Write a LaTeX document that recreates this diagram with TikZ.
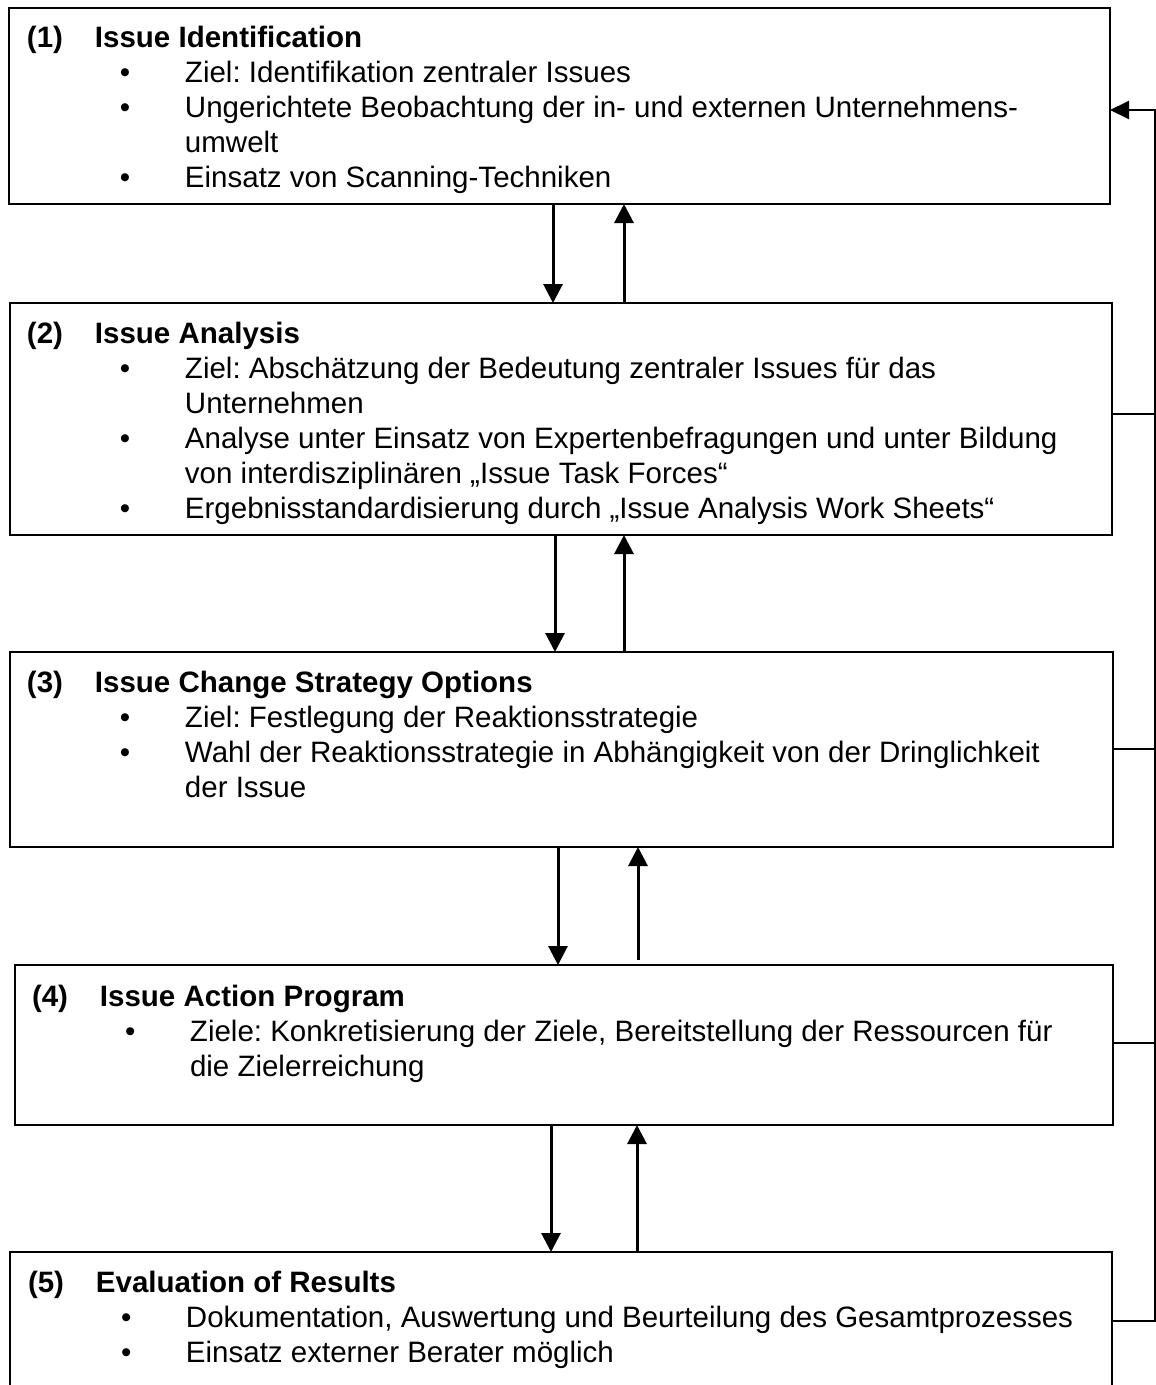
\documentclass[tikz,border=0pt]{standalone}
\usepackage{fontspec}
\setmainfont{Liberation Sans}
\usetikzlibrary{arrows.meta}

% block of text lines: first line's baseline is the node's base
\newcommand\textblock[1]{\vtop{\hsize=1080pt \parindent=0pt \parskip=0pt
  \frenchspacing\fontsize{29.5}{35}\selectfont #1}}
\newcommand\stagehead[2]{\makebox[68pt][l]{\bfseries #1}\textbf{#2}\par}
\newcommand\bulletline[1]{\hspace*{93pt}\makebox[65pt][l]{•}#1\par}
\newcommand\contline[1]{\hspace*{158pt}#1\par}

\begin{document}
\begin{tikzpicture}[x=1pt,y=-1pt,
  stagebox/.style={draw, line width=2pt, inner sep=0pt, outer sep=0pt},
  stagetext/.style={anchor=base west, inner sep=0pt, outer sep=0pt},
  flow/.style={line width=3pt, -{Triangle[length=19pt,width=19pt]}},
  feedback/.style={line width=2pt},
]
\useasboundingbox (0,0) rectangle (1156,1385);

% stage boxes
\node[stagebox, minimum width=1101pt, minimum height=196pt] (b1) at (559.5,106) {};
\node[stagebox, minimum width=1102pt, minimum height=232pt] (b2) at (561,419) {};
\node[stagebox, minimum width=1103pt, minimum height=195pt] (b3) at (561.5,749.5) {};
\node[stagebox, minimum width=1098pt, minimum height=160pt] (b4) at (564,1045) {};
\node[stagebox, minimum width=1102pt, minimum height=138pt] (b5) at (561,1321) {};

% stage contents
\node[stagetext] (t1) at (27,47.5) {\textblock{%
  \stagehead{(1)}{Issue Identification}
  \bulletline{Ziel: Identifikation zentraler Issues}
  \bulletline{Ungerichtete Beobachtung der in- und externen Unternehmens-}
  \contline{umwelt}
  \bulletline{Einsatz von Scanning-Techniken}}};

\node[stagetext] (t2) at (27,343) {\textblock{%
  \stagehead{(2)}{Issue Analysis}
  \bulletline{Ziel: Abschätzung der Bedeutung zentraler Issues für das}
  \contline{Unternehmen}
  \bulletline{Analyse unter Einsatz von Expertenbefragungen und unter Bildung}
  \contline{von interdisziplinären „Issue Task Forces“}
  \bulletline{Ergebnisstandardisierung durch „Issue Analysis Work Sheets“}}};

\node[stagetext] (t3) at (27,692) {\textblock{%
  \stagehead{(3)}{Issue Change Strategy Options}
  \bulletline{Ziel: Festlegung der Reaktionsstrategie}
  \bulletline{Wahl der Reaktionsstrategie in Abhängigkeit von der Dringlichkeit}
  \contline{der Issue}}};

\node[stagetext] (t4) at (32,1006) {\textblock{%
  \stagehead{(4)}{Issue Action Program}
  \bulletline{Ziele: Konkretisierung der Ziele, Bereitstellung der Ressourcen für}
  \contline{die Zielerreichung}}};

\node[stagetext] (t5) at (28,1292) {\textblock{%
  \stagehead{(5)}{Evaluation of Results}
  \bulletline{Dokumentation, Auswertung und Beurteilung des Gesamtprozesses}
  \bulletline{Einsatz externer Berater möglich}}};

% x positions of the vertical connectors
\coordinate (d1) at (553,0);  \coordinate (u1) at (624,0);
\coordinate (d2) at (555,0);  \coordinate (u2) at (624,0);
\coordinate (d3) at (558,0);  \coordinate (u3) at (638,0);
\coordinate (d4) at (551,0);  \coordinate (u4) at (637,0);
\coordinate (r)  at (1155,0);

% forward and backward connectors between stages
\draw[flow] (b1.south -| d1) -- (b2.north -| d1);
\draw[flow] (b2.north -| u1) -- (b1.south -| u1);
\draw[flow] (b2.south -| d2) -- (b3.north -| d2);
\draw[flow] (b3.north -| u2) -- (b2.south -| u2);
\draw[flow] (b3.south -| d3) -- (b4.north -| d3);
\draw[flow] ([yshift=5pt]b4.north -| u3) -- (b3.south -| u3);
\draw[flow] (b4.south -| d4) -- (b5.north -| d4);
\draw[flow] (b5.north -| u4) -- (b4.south -| u4);

% feedback loop along the right side
\draw[feedback, -{Triangle[length=19pt,width=18pt]}]
  (b5.east) -| ([yshift=-4pt]r |- b1.east) -- ([yshift=-4pt]b1.east);
\draw[feedback] ([yshift=5pt]b2.east) -- ([yshift=5pt]b2.east -| r);
\draw[feedback] ([yshift=1pt]b3.east) -- ([yshift=1pt]b3.east -| r);
\draw[feedback] ([yshift=2pt]b4.east) -- ([yshift=2pt]b4.east -| r);
\end{tikzpicture}
\end{document}
